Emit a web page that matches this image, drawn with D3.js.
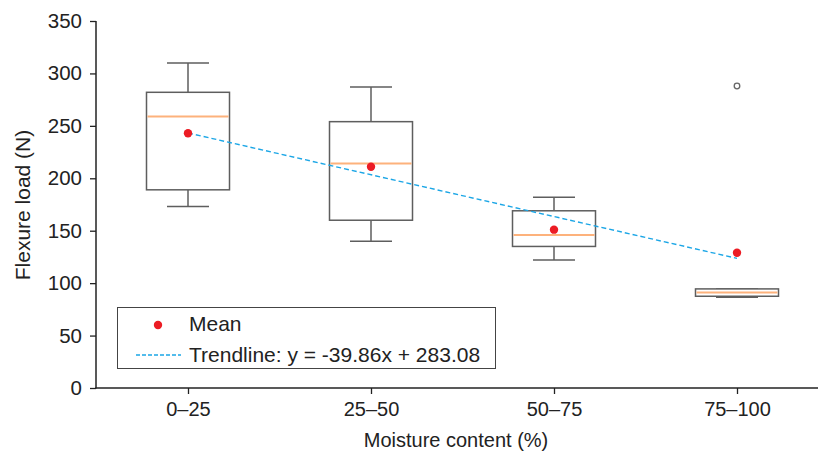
<!DOCTYPE html>
<html>
<head>
<meta charset="utf-8">
<script src="https://cdn.jsdelivr.net/npm/d3@7"></script>
<style>
  html, body { margin: 0; padding: 0; background: #fff; }
  svg { display: block; }
  text { font-family: "Liberation Sans", Arial, Helvetica, sans-serif; fill: #222; }
</style>
</head>
<body>
<svg id="chart" width="818" height="457"></svg>
<script>
// ---- data ----
const categories = ["0–25", "25–50", "50–75", "75–100"];
const whiskerLow  = [173, 140, 122, 86.5];
const quartile1   = [189, 160, 135, 87.5];
const medians     = [259, 214, 146, 91];
const quartile3   = [282, 254, 169, 94.5];
const whiskerHigh = [310, 287, 182, 94.5];
const means       = [243, 211, 151, 129];
const outlierCategories = ["75–100"];
const outlierValues     = [288];
const trendValues = [243.22, 203.36, 163.50, 123.64]; // y = -39.86x + 283.08
const yTicks = [0, 50, 100, 150, 200, 250, 300, 350];
const xLabel = "Moisture content (%)";
const yLabel = "Flexure load (N)";
const legendMean = "Mean";
const legendTrend = "Trendline: y = -39.86x + 283.08";

// ---- layout ----
const svg = d3.select("#chart");
const axisX0 = 96, axisRight = 818, axisY0 = 388, axisTop = 21;
const x = d3.scalePoint().domain(categories).range([188, 737]);
const y = d3.scaleLinear().domain([0, 350]).range([axisY0, axisTop]);
const boxW = 83, capW = 42;
const fontSize = 20;
const legendFont = 21;

const boxColor = "#5e5e5e";
const medianColor = "#fdb27c";
const meanColor = "#ec1c24";
const trendColor = "#1ba6e6";

// ---- axes ----
const yAxis = d3.axisLeft(y).tickValues(yTicks).tickSize(6).tickPadding(8).tickSizeOuter(0);
const gy = svg.append("g").attr("transform", `translate(${axisX0},0)`).call(yAxis);
gy.select(".domain").remove();
gy.append("line").attr("x1", 0).attr("x2", 0).attr("y1", y(350)).attr("y2", axisY0 + 0.5)
  .attr("stroke", "#222").attr("stroke-width", 1.5);
gy.selectAll(".tick line").attr("stroke", "#222").attr("stroke-width", 1.3);
gy.selectAll(".tick text").attr("font-size", 20.5).style("font-family", '"Liberation Sans", Arial, sans-serif').attr("fill", "#222");

const xAxis = d3.axisBottom(x).tickSize(6).tickPadding(8).tickSizeOuter(0);
const gx = svg.append("g").attr("transform", `translate(0,${axisY0})`).call(xAxis);
gx.select(".domain").remove();
gx.append("line").attr("x1", axisX0 - 0.75).attr("x2", axisRight).attr("y1", 0).attr("y2", 0)
  .attr("stroke", "#222").attr("stroke-width", 1.5);
gx.selectAll(".tick line").attr("stroke", "#222").attr("stroke-width", 1.3);
gx.selectAll(".tick text").attr("font-size", fontSize).style("font-family", '"Liberation Sans", Arial, sans-serif').attr("fill", "#222");

// axis titles
svg.append("text").attr("x", 456).attr("y", 447).attr("text-anchor", "middle")
  .attr("font-size", fontSize).text(xLabel);
svg.append("text").attr("transform", "translate(30,205) rotate(-90)").attr("text-anchor", "middle")
  .attr("font-size", 21).text(yLabel);

// ---- boxes ----
const boxes = svg.append("g");
categories.forEach((c, i) => {
  const cx = x(c);
  const g = boxes.append("g");
  // whiskers
  g.append("line").attr("x1", cx).attr("x2", cx).attr("y1", y(quartile3[i])).attr("y2", y(whiskerHigh[i]))
    .attr("stroke", boxColor).attr("stroke-width", 1.5);
  g.append("line").attr("x1", cx).attr("x2", cx).attr("y1", y(quartile1[i])).attr("y2", y(whiskerLow[i]))
    .attr("stroke", boxColor).attr("stroke-width", 1.5);
  // caps
  [whiskerHigh[i], whiskerLow[i]].forEach(v => {
    g.append("line").attr("x1", cx - capW / 2).attr("x2", cx + capW / 2).attr("y1", y(v)).attr("y2", y(v))
      .attr("stroke", boxColor).attr("stroke-width", 1.5);
  });
  // box
  g.append("rect").attr("x", cx - boxW / 2).attr("y", y(quartile3[i]))
    .attr("width", boxW).attr("height", y(quartile1[i]) - y(quartile3[i]))
    .attr("fill", "#fff").attr("stroke", boxColor).attr("stroke-width", 1.5);
  // median
  g.append("line").attr("x1", cx - boxW / 2 + 1).attr("x2", cx + boxW / 2 - 1)
    .attr("y1", y(medians[i])).attr("y2", y(medians[i]))
    .attr("stroke", medianColor).attr("stroke-width", 2);
});

// outliers
svg.append("g").selectAll("circle").data(outlierValues).join("circle")
  .attr("cx", (d, i) => x(outlierCategories[i])).attr("cy", d => y(d)).attr("r", 2.8)
  .attr("fill", "none").attr("stroke", "#666").attr("stroke-width", 1.3);

// trendline (from first to last category)
const trendEnds = [
  { c: categories[0], v: trendValues[0] },
  { c: categories[categories.length - 1], v: trendValues[trendValues.length - 1] }
];
svg.append("path").datum(trendEnds)
  .attr("d", d3.line().x(d => x(d.c)).y(d => y(d.v)))
  .attr("fill", "none").attr("stroke", trendColor).attr("stroke-width", 1.4)
  .attr("stroke-dasharray", "5,3");

// means
svg.append("g").selectAll("circle").data(means).join("circle")
  .attr("cx", (d, i) => x(categories[i])).attr("cy", d => y(d)).attr("r", 4.2)
  .attr("fill", meanColor);

// ---- legend ----
const lg = svg.append("g");
lg.append("rect").attr("x", 117.5).attr("y", 307.5).attr("width", 378).attr("height", 61)
  .attr("fill", "#fff").attr("stroke", "#444").attr("stroke-width", 1);
lg.append("circle").attr("cx", 158).attr("cy", 325).attr("r", 4.2).attr("fill", meanColor);
lg.append("text").attr("x", 189).attr("y", 324).attr("dy", "0.35em").attr("font-size", legendFont).text(legendMean);
lg.append("line").attr("x1", 136).attr("x2", 181).attr("y1", 355).attr("y2", 355)
  .attr("stroke", trendColor).attr("stroke-width", 1.3).attr("stroke-dasharray", "4,2");
lg.append("text").attr("x", 189).attr("y", 355).attr("dy", "0.35em").attr("font-size", legendFont).text(legendTrend);
</script>
</body>
</html>
